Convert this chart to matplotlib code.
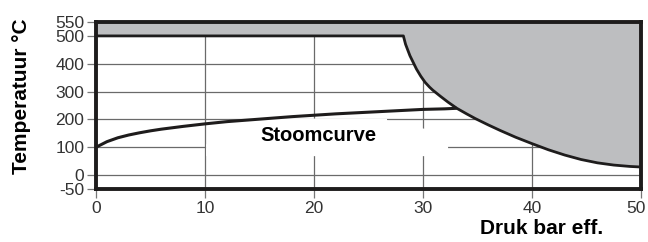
import matplotlib.pyplot as plt
import matplotlib.transforms as mtransforms
from matplotlib.patches import Polygon

plt.rcParams['font.family'] = ['Liberation Sans', 'DejaVu Sans']
plt.rcParams['axes.unicode_minus'] = False

# Stoomcurve (druk bar eff. -> temperatuur)
steam_p = [0, 1, 2, 3, 4, 5, 6, 8, 10, 12, 14, 16, 18, 20, 22, 25, 28, 30, 32, 33.1]
steam_t = [100, 120, 134, 144, 152, 159, 165, 175, 184, 192, 198, 204, 210, 215, 220, 226, 232, 236, 238, 240]

# grens van het toegestane gebied
limit_p = [0, 28.2, 28.4, 28.8, 29.4, 29.8, 30.2, 30.6, 30.9, 31.6, 32.3, 33.1, 34.0,
           34.8, 36.0, 37.1, 38.5, 40.0, 41.5, 43.0, 44.5, 46.0, 47.5, 49.0, 50]
limit_t = [500, 500, 470, 429, 381, 355, 333, 316, 305, 283, 262, 240, 220,
           203, 180, 160, 136, 113, 91, 72, 56, 44, 36, 31, 29]

x_ticks = [0, 10, 20, 30, 40, 50]
y_ticks = [-50, 0, 100, 200, 300, 400, 500, 550]
y_grid = [0, 100, 200, 300, 400]
x_grid = [10, 20, 30, 40]

fig = plt.figure(figsize=(6.48, 2.42), dpi=100)
ax = fig.add_axes([96 / 648, 1 - 189 / 242, 545 / 648, 167 / 242])
ax.set_xlim(0, 50)
ax.set_ylim(-50, 550)

# gridlines
for y in y_grid:
    ax.axhline(y, color='#6a6a6a', lw=0.9, zorder=1)
for x in x_grid:
    ax.axvline(x, color='#6a6a6a', lw=0.9, zorder=1)

# white area behind the label
ax.add_patch(Polygon([(10.1, 68), (10.1, 110), (14.2, 203), (26.7, 203), (26.7, 196),
                      (30.3, 165), (32.3, 108), (32.3, 68)],
                     closed=True, facecolor='white', edgecolor='none', zorder=2))

# grey forbidden area
ax.fill_between(limit_p, limit_t, 550, color='#bdbec0', lw=0, zorder=3)
ax.plot(limit_p, limit_t, color='#1e1c1c', lw=2.0, zorder=4, solid_joinstyle='round')
ax.plot(steam_p, steam_t, color='#1e1c1c', lw=2.2, zorder=4, solid_capstyle='butt')

ax.text(20.4, 144, 'Stoomcurve', ha='center', va='center', fontsize=14.5,
        fontweight='bold', zorder=5)

for s in ax.spines.values():
    s.set_linewidth(2.8)
    s.set_color('#1e1c1c')
    s.set_zorder(6)

ax.set_xticks(x_ticks)
ax.set_yticks(y_ticks)
ax.tick_params(axis='both', direction='out', length=6.5, width=0.9, color='#777777',
               labelsize=12.5, labelcolor='#333333', pad=2)

# last x label a bit to the left so it stays inside the picture
last = ax.get_xticklabels()[-1]
last.set_transform(last.get_transform()
                   + mtransforms.ScaledTranslation(-5 / 100, 0, fig.dpi_scale_trans))

fig.text(22 / 648, 1 - 96 / 242, 'Temperatuur °C', rotation=90, ha='center',
         va='center', fontsize=15, fontweight='bold')
fig.text(603 / 648, 1 - 228 / 242, 'Druk bar eff.', ha='right', va='center',
         fontsize=15, fontweight='bold')

fig.savefig('out.png', dpi=100)
